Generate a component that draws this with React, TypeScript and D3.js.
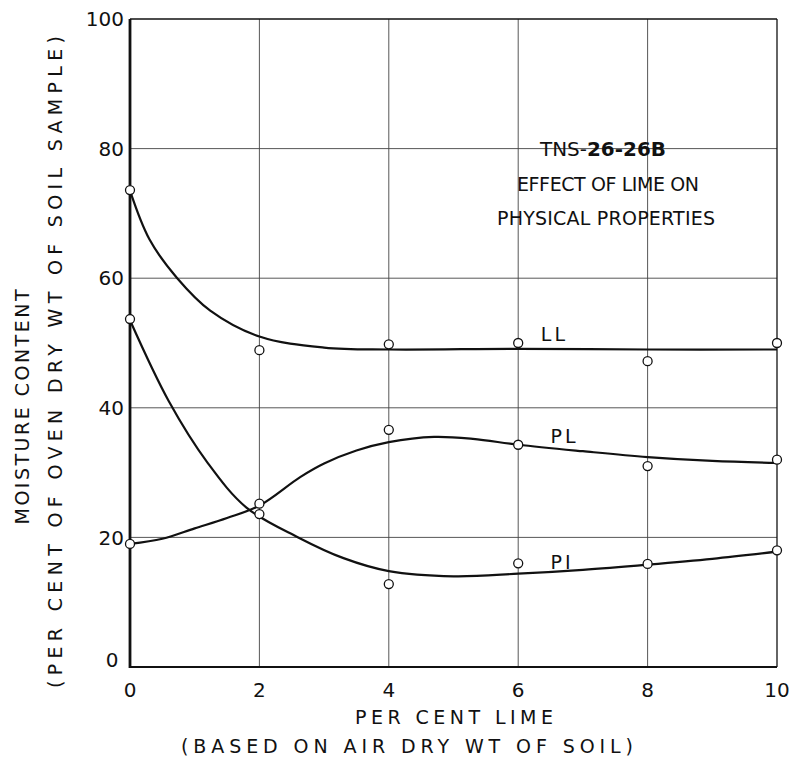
import React from "react";
import * as d3 from "d3";

const xTicks = [0, 2, 4, 6, 8, 10];
const yTicks = [20, 40, 60, 80, 100];

// measured points (per cent lime, moisture content)
const llPoints: [number, number][] = [[0, 73.6], [2, 48.9], [4, 49.8], [6, 50], [8, 47.2], [10, 50]];
const plPoints: [number, number][] = [[0, 19], [2, 25.2], [4, 36.6], [6, 34.3], [8, 31], [10, 32]];
const piPoints: [number, number][] = [[0, 53.7], [2, 23.6], [4, 12.8], [6, 16], [8, 15.9], [10, 18]];

// hand-fitted curves
const llCurve: [number, number][] = [[0, 73.5], [0.3, 66], [0.73, 60], [1.24, 55], [2, 51], [3, 49.3], [4, 49], [6, 49.1], [8, 49], [10, 49]];
const plCurve: [number, number][] = [[0, 19], [0.5, 19.8], [1, 21.4], [1.5, 23], [2, 24.9], [2.63, 29.3], [3, 31.4], [3.5, 33.4], [4, 34.7], [4.7, 35.5], [5.3, 35.2], [6, 34.3], [7, 33.3], [8, 32.4], [9, 31.8], [10, 31.5]];
const piCurve: [number, number][] = [[0, 53.5], [0.6, 41], [1.2, 31.5], [1.8, 24.6], [2.6, 20], [3.3, 16.8], [4, 14.8], [5, 14], [6, 14.4], [7, 15], [8, 15.8], [9, 16.7], [10, 17.8]];

const curveLabels = [
  { text: "LL", x: 6.35, y: 51.3 },
  { text: "PL", x: 6.5, y: 35.6 },
  { text: "PI", x: 6.5, y: 16.2 },
];

const titleLines = ["EFFECT OF LIME ON", "PHYSICAL PROPERTIES"];

const W = 791, H = 758;
const left = 130, right = 777, top = 19, bottom = 667;
const FONT = "'DejaVu Sans', 'Liberation Sans', sans-serif";

export default function App() {
  const x = d3.scaleLinear().domain([0, 10]).range([left, right]);
  const y = d3.scaleLinear().domain([0, 100]).range([bottom, top]);
  const line = d3.line<[number, number]>()
    .x((d) => x(d[0]))
    .y((d) => y(d[1]))
    .curve(d3.curveCatmullRom.alpha(0.5));

  const allPoints = [...llPoints, ...plPoints, ...piPoints];

  return (
    <svg width={W} height={H} style={{ position: "absolute", left: 0, top: 0, background: "#fff" }}>
      <rect x={0} y={0} width={W} height={H} fill="#fff" />
      {/* grid */}
      {xTicks.filter((t) => t > 0 && t < 10).map((t) => (
        <line key={"gx" + t} x1={x(t)} x2={x(t)} y1={y(0)} y2={y(100)} stroke="#444" strokeWidth={0.9} />
      ))}
      {yTicks.filter((t) => t < 100).map((t) => (
        <line key={"gy" + t} x1={x(0)} x2={x(10)} y1={y(t)} y2={y(t)} stroke="#444" strokeWidth={0.9} />
      ))}
      {/* frame */}
      <line x1={x(0)} x2={x(10)} y1={y(100)} y2={y(100)} stroke="#111" strokeWidth={1.6} />
      <line x1={x(10)} x2={x(10)} y1={y(0)} y2={y(100)} stroke="#111" strokeWidth={1.3} />
      <line x1={x(0)} x2={x(10)} y1={y(0)} y2={y(0)} stroke="#111" strokeWidth={2} />
      <line x1={x(0)} x2={x(0)} y1={y(0) + 1} y2={y(100)} stroke="#111" strokeWidth={2.8} />

      {/* curves */}
      {[llCurve, plCurve, piCurve].map((c, i) => (
        <path key={"c" + i} d={line(c) || ""} fill="none" stroke="#111" strokeWidth={2.2} />
      ))}
      {/* points */}
      {allPoints.map((p, i) => (
        <circle key={"p" + i} cx={x(p[0])} cy={y(p[1])} r={4.5} fill="#fff" stroke="#111" strokeWidth={1.3} />
      ))}

      {/* y tick labels */}
      {yTicks.map((t) => (
        <text key={"yl" + t} x={left - 6} y={y(t)} dy="0.36em" textAnchor="end" fontFamily={FONT} fontSize={20} fill="#111">{t}</text>
      ))}
      <text x={112} y={y(0) - 7} dy="0.36em" textAnchor="middle" fontFamily={FONT} fontSize={20} fill="#111">0</text>
      {/* x tick labels */}
      {xTicks.map((t) => (
        <text key={"xl" + t} x={x(t)} y={690} dy="0.36em" textAnchor="middle" fontFamily={FONT} fontSize={20} fill="#111">{t}</text>
      ))}

      {/* axis titles */}
      <text x={454} y={717} dy="0.36em" textAnchor="middle" fontFamily={FONT} fontSize={19} fill="#111" textLength={198} lengthAdjust="spacing">PER CENT LIME</text>
      <text x={407} y={746} dy="0.36em" textAnchor="middle" fontFamily={FONT} fontSize={19} fill="#111" textLength={452} lengthAdjust="spacing">(BASED ON AIR DRY WT OF SOIL)</text>
      <text transform={`translate(22,${407}) rotate(-90)`} dy="0.36em" textAnchor="middle" fontFamily={FONT} fontSize={19} fill="#111" textLength={235} lengthAdjust="spacing">MOISTURE  CONTENT</text>
      <text transform={`translate(55,${362}) rotate(-90)`} dy="0.36em" textAnchor="middle" fontFamily={FONT} fontSize={19} fill="#111" textLength={652} lengthAdjust="spacing">(PER CENT OF OVEN DRY WT OF SOIL SAMPLE)</text>

      {/* title block */}
      <text x={603} y={149} dy="0.36em" textAnchor="middle" fontFamily={FONT} fontSize={19} fill="#111" textLength={126} lengthAdjust="spacingAndGlyphs">
        <tspan>TNS-</tspan><tspan fontWeight="bold">26-26B</tspan>
      </text>
      <text x={608} y={184} dy="0.36em" textAnchor="middle" fontFamily={FONT} fontSize={19} fill="#111" textLength={182} lengthAdjust="spacing">{titleLines[0]}</text>
      <text x={606} y={218} dy="0.36em" textAnchor="middle" fontFamily={FONT} fontSize={19} fill="#111" textLength={218} lengthAdjust="spacing">{titleLines[1]}</text>

      {/* curve labels */}
      {curveLabels.map((l) => (
        <text key={l.text} x={x(l.x)} y={y(l.y)} dy="0.36em" fontFamily={FONT} fontSize={19} fill="#111" letterSpacing={3}>{l.text}</text>
      ))}
    </svg>
  );
}
